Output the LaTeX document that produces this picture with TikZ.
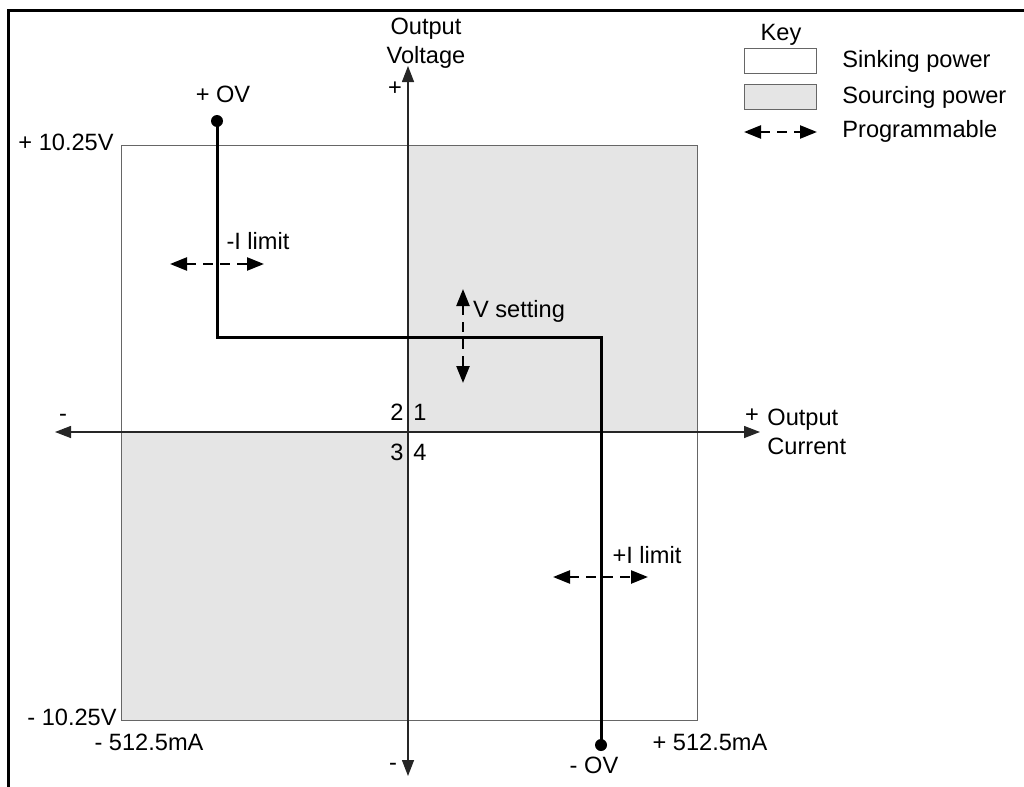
\documentclass[tikz,border=0pt]{standalone}
\usepackage{fontspec}
\setmainfont{Liberation Sans}
\usetikzlibrary{arrows.meta}

\begin{document}
\begin{tikzpicture}[x=0.5pt, y=-0.5pt,
    lbl/.style={font=\fontsize{11.8}{14.5}\selectfont, inner sep=0pt},
    frame/.style={black, line width=1.2pt},
    quad/.style={draw=black!60, line width=0.5pt},
    srcfill/.style={fill=gray!20},
    axis/.style={black!85, line width=0.7pt, -{Triangle[length=8pt,width=6pt]}},
    prog/.style={line width=1.2pt, dash pattern=on 5pt off 3.5pt,
        {Triangle[length=8.5pt,width=6.5pt]}-{Triangle[length=8.5pt,width=6.5pt]}},
    ovpath/.style={line width=1.5pt},
    ovdot/.style={circle, fill=black, inner sep=0pt, minimum size=6pt}]
        \useasboundingbox (0,0) rectangle (1024,787);
        \draw[frame] (8.5,787) -- (8.5,10.5) -- (1024,10.5);
        % quadrants
        \fill[srcfill] (408,145) rectangle (697,432);
        \fill[srcfill] (121,432) rectangle (408,720);
        \draw[quad] (121,145) rectangle (697,720);
        % axes
        \coordinate (o) at (408,432);
        \coordinate (ineg) at (55,432);
        \coordinate (ipos) at (760,432);
        \coordinate (vpos) at (408,66);
        \coordinate (vneg) at (408,776);
        \draw[axis] (o) -- (ineg);
        \draw[axis] (o) -- (ipos);
        \draw[axis] (o) -- (vpos);
        \draw[axis] (o) -- (vneg);
        \node[lbl, align=center] (vtitle) at (426,43) {Output\\Voltage};
        \node[lbl] (vplus) at (395,89) {+};
        \node[lbl] (vminus) at (393,767) {-};
        \node[lbl] (iminus) at (63,418) {-};
        \node[lbl] (iplus) at (752,416) {+};
        \node[lbl, align=left, anchor=west] (ititle) at (767,432) {Output\\Current};
        \node[lbl] (q2) at (397,412) {2};
        \node[lbl] (q1) at (420,412) {1};
        \node[lbl] (q3) at (397,452) {3};
        \node[lbl] (q4) at (420,452) {4};
        \node[lbl, anchor=east] (vmax) at (114,142) {+ 10.25V};
        \node[lbl, anchor=east] (vmin) at (117,717) {- 10.25V};
        \node[lbl] (imin) at (149,742) {- 512.5mA};
        \node[lbl] (imax) at (710,742) {+ 512.5mA};
        % OV trip line
        \node[ovdot] (povdot) at (217,121) {};
        \node[ovdot] (movdot) at (601,745) {};
        \node[lbl] (povlbl) at (223,94) {+ OV};
        \node[lbl] (movlbl) at (594,765) {- OV};
        \coordinate (c1) at (217,337);
        \coordinate (c2) at (601,337);
        \draw[ovpath] (povdot.center) -- (c1) -- (c2) -- (movdot.center);
        % programmable limits
        \coordinate (nila) at (170,264);
        \coordinate (nilb) at (264,264);
        \draw[prog] (nila) -- (nilb);
        \node[lbl] (nillbl) at (258,241) {-I limit};
        \coordinate (vsa) at (463,289);
        \coordinate (vsb) at (463,383);
        \draw[prog] (vsa) -- (vsb);
        \node[lbl] (vslbl) at (519,311) {V setting};
        \coordinate (pila) at (553,577);
        \coordinate (pilb) at (648,577);
        \draw[prog] (pila) -- (pilb);
        \node[lbl] (pillbl) at (647,555) {+I limit};
        % key
        \node[lbl] (key) at (781,35) {Key};
        \draw[quad] (744,48) rectangle (816,73);
        \draw[quad, srcfill] (744,84) rectangle (816,109);
        \coordinate (keya) at (744,132);
        \coordinate (keyb) at (817,132);
        \draw[prog] (keya) -- (keyb);
        \node[lbl, anchor=west] (sinklbl) at (842,61) {Sinking power};
        \node[lbl, anchor=west] (srclbl) at (842,97) {Sourcing power};
        \node[lbl, anchor=west] (proglbl) at (842,131) {Programmable};
    \end{tikzpicture}
\end{document}
